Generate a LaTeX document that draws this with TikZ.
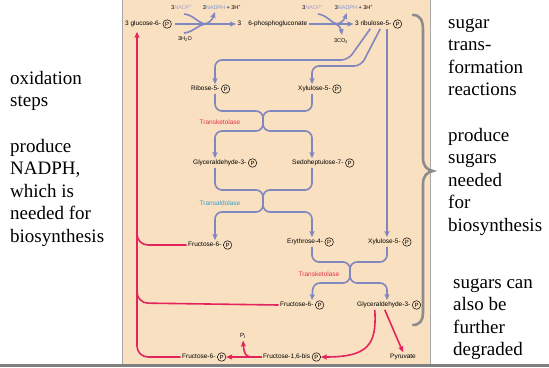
\documentclass[tikz,border=0pt]{standalone}
\usepackage{fontspec}
\setmainfont{Liberation Serif}
\newfontfamily\lblfont{Liberation Sans}
\usetikzlibrary{arrows.meta,calc}
\definecolor{beige}{RGB}{249,224,192}
\definecolor{flowblue}{RGB}{128,134,190}
\definecolor{flowred}{RGB}{228,36,92}
\definecolor{tkred}{RGB}{226,52,72}
\definecolor{taldblue}{RGB}{56,160,204}
\definecolor{nadpcol}{RGB}{180,156,210}
\definecolor{nadphcol}{RGB}{126,150,214}
\definecolor{bracegray}{RGB}{140,140,140}
\begin{document}
\begin{tikzpicture}[x=1pt,y=-1pt,
  lbl/.style={anchor=west,inner sep=1.5pt,text height=4.8pt,text depth=1.4pt,font=\lblfont\fontsize{6.5}{7}\selectfont},
  pc/.style={anchor=west,circle,draw=black,line width=0.5pt,inner sep=0pt,minimum size=8.5pt,font=\lblfont\fontsize{6}{6}\selectfont},
  small/.style={inner sep=0.5pt,font=\lblfont\fontsize{5.5}{6}\selectfont},
  enz/.style={inner sep=0.5pt,font=\lblfont\fontsize{6.5}{7}\selectfont},
  side/.style={anchor=north west,inner sep=0pt,align=left,font=\fontsize{19}{22.5}\selectfont},
  bl/.style={draw=flowblue,line width=1.6pt,rounded corners=7pt},
  rd/.style={draw=flowred,line width=1.6pt,rounded corners=11pt},
  tip/.style={-{Stealth[length=6pt,width=5pt,inset=1pt]}}
]
\useasboundingbox (0,0) rectangle (549,367);
% panel
\fill[beige] (122,0) rectangle (430,364);
\draw[black!35,line width=0.8pt] (122,0) -- (122,364);
\draw[black!35,line width=0.8pt] (430,0) -- (430,364);
\fill[black!50] (0,364) rectangle (549,367);

% column coordinates
\coordinate (cV) at (137,0);
\coordinate (cL) at (215,0);
\coordinate (cM) at (263,0);
\coordinate (cR) at (312,0);
\coordinate (cJ) at (350,0);
\coordinate (cX) at (387,0);

% labels
\node[lbl] (glc) at (123.5,24) {3 glucose-6-};
\node[pc] (glcP) at (glc.east) {P};
\node[lbl] (pg) at (236,24) {3\hspace{7pt}6-phosphogluconate};
\node[lbl] (rib) at (353.5,24) {3 ribulose-5-};
\node[pc] (ribP) at (rib.east) {P};
\node[lbl] (ribose) at (189.5,89) {Ribose-5-};
\node[pc] (riboseP) at (ribose.east) {P};
\node[lbl] (xyl1) at (296.5,89) {Xylulose-5-};
\node[pc] (xyl1P) at (xyl1.east) {P};
\node[lbl] (gap) at (191.5,163) {Glyceraldehyde-3-};
\node[pc] (gapP) at (gap.east) {P};
\node[lbl] (sedo) at (290.5,163) {Sedoheptulose-7-};
\node[pc] (sedoP) at (sedo.east) {P};
\node[lbl] (fru1) at (186.5,245) {Fructose-6-};
\node[pc] (fru1P) at (fru1.east) {P};
\node[lbl] (ery) at (285.5,242) {Erythrose-4-};
\node[pc] (eryP) at (ery.east) {P};
\node[lbl] (xyl2) at (366.5,242) {Xylulose-5-};
\node[pc] (xyl2P) at (xyl2.east) {P};
\node[lbl] (fru2) at (278.5,305) {Fructose-6-};
\node[pc] (fru2P) at (fru2.east) {P};
\node[lbl] (gap2) at (355.5,305) {Glyceraldehyde-3-};
\node[pc] (gap2P) at (gap2.east) {P};
\node[lbl] (fbp) at (261.5,357) {Fructose-1,6-bis\ };
\node[pc] (fbpP) at (fbp.east) {P};
\node[lbl] (fru3) at (180.5,357) {Fructose-6-};
\node[pc] (fru3P) at (fru3.east) {P};
\node[lbl] (pyr) at (388.5,357) {Pyruvate};
\node[small,font=\lblfont\fontsize{6}{7}\selectfont] (pi) at (243,336) {P\textsubscript{i}};

\node[enz,text=tkred] (tk1) at (220,122) {Transketolase};
\node[enz,text=taldblue] (tald) at (220,203) {Transaldolase};
\node[enz,text=tkred] (tk2) at (319,274) {Transketolase};

\node[small] (nadp1) at (182,7) {3{\color{nadpcol}NADP\textsuperscript{+}}};
\node[small] (nadph1) at (222,7) {3{\color{nadphcol}NADPH} + 3H\textsuperscript{+}};
\node[small] (h2o) at (185,39) {3H\textsubscript{2}O};
\node[small] (nadp2) at (313,7) {3{\color{nadpcol}NADP\textsuperscript{+}}};
\node[small] (nadph2) at (354,7) {3{\color{nadphcol}NADPH} + 3H\textsuperscript{+}};
\node[small] (co2) at (341,41) {3CO\textsubscript{2}};

% oxidative steps
\draw[bl,tip] ([xshift=3pt]glcP.east) -- (pg.west);
\draw[bl,rounded corners=0pt] (184,14) .. controls (194,15) and (197,23) .. (206,24);
\draw[bl,rounded corners=0pt] (184,33) .. controls (194,32) and (197,25) .. (206,24);
\draw[bl,tip,rounded corners=0pt] (203,24) .. controls (209,24) and (212,20) .. (215,12);
\draw[bl,tip] (pg.east) -- (rib.west);
\draw[bl,rounded corners=0pt] (318,14) .. controls (327,15) and (331,23) .. (337,24);
\draw[bl,tip,rounded corners=0pt] (335,24) .. controls (341,24) and (344,20) .. (347,13);
\draw[bl,tip,rounded corners=0pt] (335,24) .. controls (339,25) and (341,28) .. (342,35);

% non-oxidative steps
\draw[bl,tip] ([xshift=-3pt]rib.south) -- (348,60) -- (215,60) -- (ribose.north -| cL);
\draw[bl,tip] ([xshift=7pt]rib.south) -- (361,66) -- (312,66) -- (xyl1.north -| cR);
\draw[bl,tip] (rib.south -| cX) -- (xyl2.north -| cX);

\draw[bl,tip] (ribose.south -| cL) -- (215,111) -- (263,111) -- (263,131) -- (215,131) -- (gap.north -| cL);
\draw[bl,tip] (xyl1.south -| cR) -- (312,111) -- (263,111) -- (263,131) -- (312,131) -- (sedo.north -| cR);

\draw[bl,tip] (gap.south -| cL) -- (215,190) -- (263,190) -- (263,212) -- (215,212) -- (fru1.north -| cL);
\draw[bl,tip] (sedo.south -| cR) -- (312,190) -- (263,190) -- (263,212) -- (312,212) -- (ery.north -| cR);

\draw[bl,tip] (ery.south -| cR) -- (312,262) -- (350,262) -- (350,283) -- (313,283) -- (fru2.north -| cR);
\draw[bl,tip] (xyl2.south -| cX) -- (387,262) -- (350,262) -- (350,283) -- (387,283) -- (gap2.north -| cX);

% red return and degradation
\draw[rd,tip,shorten >=3pt] (fru3.west) -- (137,357) -- (glc.south -| cV);
\draw[rd] (fru1.west) -- (137,245) -- (137,220);
\draw[rd] (fru2.west) -- (137,303) -- (137,280);
\draw[rd,tip,rounded corners=0pt] ([xshift=-9pt]gap2.south) .. controls (377,345) and (368,357) .. (fbpP.east);
\draw[rd,tip] ([xshift=1pt]gap2.south) -- (pyr.north);
\draw[rd,tip] (fbp.west) -- (fru3P.east);
\draw[rd,tip,rounded corners=0pt,shorten >=1pt] (252,357) .. controls (246,357) and (244,354) .. (pi.south);

% brace
\draw[bracegray,line width=2.6pt,line cap=round]
  (413,15) .. controls (420,15) and (423,20) .. (423,30) -- (423,158)
  .. controls (423,166) and (427,170) .. (433,171)
  .. controls (427,172) and (423,176) .. (423,184) -- (423,313)
  .. controls (423,320) and (420,325) .. (413,325);

% side texts
\node[side] (t1) at (10,70) {\rule{0pt}{14pt}oxidation\\steps};
\node[side] (t2) at (10,138) {\rule{0pt}{14pt}produce\\NADPH,\\which is\\needed for\\biosynthesis};
\node[side] (t3) at (448,14) {\rule{0pt}{14pt}sugar\\trans-\\formation\\reactions};
\node[side] (t4) at (448,127) {\rule{0pt}{14pt}produce\\sugars\\needed\\for\\biosynthesis};
\node[side] (t5) at (453,274) {\rule{0pt}{14pt}sugars can\\also be\\further\\degraded};
\end{tikzpicture}
\end{document}
